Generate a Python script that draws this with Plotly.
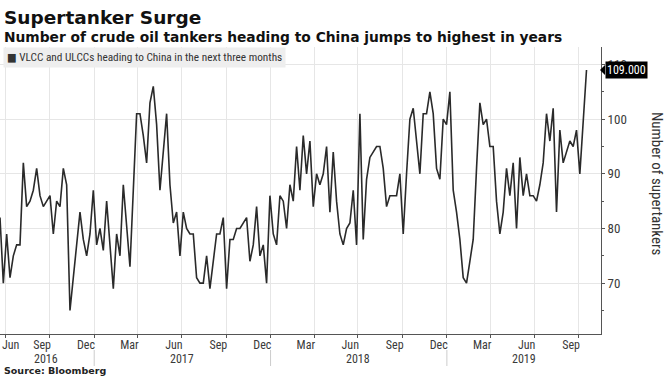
import plotly.graph_objects as go
import pandas as pd

# ---------------- data ----------------
title = "Supertanker Surge"
subtitle = "Number of crude oil tankers heading to China jumps to highest in years"
series_name = "VLCC and ULCCs heading to China in the next three months"
y_title = "Number of supertankers"
source = "Source: Bloomberg"

first_date = "2016-06-20"
last_date = "2019-10-17"
axis_end = "2019-11-16"

tankers = [
    82, 70, 79, 71, 75, 77, 77, 92, 84, 85, 87, 91, 86, 84, 85, 86, 79, 85,
    84, 91, 88, 65, 71, 77, 83, 78, 75, 79, 87, 77, 80, 76, 85, 77, 69, 79,
    75, 88, 81, 73, 87, 101, 101, 97, 92, 103, 106, 99, 87, 94, 101, 88, 81, 83,
    75, 83, 80, 79, 79, 71, 70, 70, 75, 69, 74, 79, 79, 82, 69, 78, 78, 80,
    80, 81, 82, 74, 77, 84, 75, 77, 70, 86, 79, 77, 86, 85, 80, 88, 85, 95,
    87, 97, 90, 96, 84, 90, 88, 90, 95, 83, 94, 85, 79, 77, 80, 81, 87, 77,
    101, 78, 89, 93, 94, 95, 95, 91, 84, 86, 86, 86, 90, 79, 90, 100, 102, 96,
    90, 101, 101, 105, 101, 91, 89, 100, 99, 105, 87, 83, 78, 71, 70, 74, 78, 91,
    103, 99, 100, 95, 95, 85, 79, 83, 91, 86, 92, 80, 93, 86, 90, 86, 86, 85,
    88, 92, 101, 96, 102, 83, 98, 92, 94, 96, 95, 98, 90, 100, 109,
]

month_tick_dates = [
    "2016-09-15", "2016-12-15", "2017-03-15", "2017-06-15", "2017-09-15",
    "2017-12-15", "2018-03-15", "2018-06-15", "2018-09-15", "2018-12-15",
    "2019-03-15", "2019-06-15", "2019-09-15",
]
month_tick_labels = ["Sep", "Dec", "Mar", "Jun", "Sep", "Dec", "Mar", "Jun",
                     "Sep", "Dec", "Mar", "Jun", "Sep"]
first_month_label = "Jun"
quarter_grid_dates = [
    "2016-07-01", "2016-10-01", "2017-01-01", "2017-04-01", "2017-07-01",
    "2017-10-01", "2018-01-01", "2018-04-01", "2018-07-01", "2018-10-01",
    "2019-01-01", "2019-04-01", "2019-07-01", "2019-10-01",
]
year_labels = ["2016", "2017", "2018", "2019"]
year_label_dates = ["2016-09-24", "2017-07-02", "2018-07-02", "2019-06-10"]
year_boundaries = ["2017-01-01", "2018-01-01", "2019-01-01"]
y_ticks = [70, 80, 90, 100, 110]
y_range = [60.7, 113.2]

dates = pd.date_range(first_date, last_date, periods=len(tankers))

# ---------------- layout helpers ----------------
W, H = 670, 376
M_L, M_R, M_T, M_B = 0, 69, 47, 42
PW, PH = W - M_L - M_R, H - M_T - M_B


def py(px):
    """pixel row from top -> paper y"""
    return (H - M_B - px) / PH


def pxx(px):
    """pixel column from left -> paper x"""
    return (px - M_L) / PW


NARROW = "Liberation Sans Narrow, Roboto Condensed, DejaVu Sans Condensed, Liberation Sans, sans-serif"
BOLD = "DejaVu Sans, Verdana, sans-serif"
GRID = "#e6e6e6"
AXIS = "#555555"
TXT = "#3a3a3a"

fig = go.Figure()
fig.add_trace(go.Scatter(
    x=dates, y=tankers, mode="lines", name=series_name,
    line=dict(color="#2a2a2a", width=1.6), showlegend=False,
))

fig.update_layout(
    width=W, height=H,
    margin=dict(l=M_L, r=M_R, t=M_T, b=M_B, pad=0),
    paper_bgcolor="white", plot_bgcolor="white",
    font=dict(family=NARROW, color=TXT, size=12),
    xaxis=dict(
        range=[first_date, axis_end],
        showline=True, linecolor=AXIS, linewidth=1,
        tickmode="array", tickvals=month_tick_dates, ticktext=month_tick_labels,
        showgrid=False, ticks="", tickfont=dict(family=NARROW, size=12, color=TXT),
        minor=dict(tickmode="array", tickvals=quarter_grid_dates, showgrid=True,
                   gridcolor=GRID, gridwidth=1, ticks="outside", ticklen=3,
                   tickcolor=AXIS),
        zeroline=False, fixedrange=True,
    ),
    yaxis=dict(
        side="right", range=y_range,
        tickmode="array", tickvals=y_ticks,
        showline=True, linecolor=AXIS, linewidth=1,
        showgrid=True, gridcolor=GRID, gridwidth=1,
        ticks="outside", ticklen=3, tickcolor=AXIS,
        minor=dict(dtick=5, tick0=65, ticks="outside", ticklen=2, tickcolor=AXIS, showgrid=False),
        tickfont=dict(family=NARROW, size=13, color=TXT),
        zeroline=False, fixedrange=True,
    ),
)

annotations = [
    dict(text=f"<b>{title}</b>", x=pxx(2), y=py(18), xref="paper", yref="paper",
         xanchor="left", yanchor="middle", showarrow=False,
         font=dict(family=BOLD, size=18.5, color="#111111")),
    dict(text=f"<b>{subtitle}</b>", x=pxx(2), y=py(37), xref="paper", yref="paper",
         xanchor="left", yanchor="middle", showarrow=False,
         font=dict(family=BOLD, size=13.8, color="#111111")),
    dict(text=f"■ {series_name}", x=pxx(3), y=py(57), xref="paper", yref="paper",
         xanchor="left", yanchor="middle", showarrow=False, bgcolor="#eeeeee",
         borderpad=3, font=dict(family=NARROW, size=11.3, color="#333333")),
    dict(text=f"<b>{source}</b>", x=pxx(2), y=py(370), xref="paper", yref="paper",
         xanchor="left", yanchor="middle", showarrow=False,
         font=dict(family=BOLD, size=9.5, color="#222222")),
    dict(text=y_title, x=pxx(657), y=py(184), xref="paper", yref="paper",
         xanchor="center", yanchor="middle", showarrow=False, textangle=90,
         font=dict(family=NARROW, size=15, color="#333333")),
    dict(text=first_month_label, x=pxx(0), y=py(345), xref="paper", yref="paper",
         xanchor="left", yanchor="middle", showarrow=False,
         font=dict(family=NARROW, size=12, color=TXT)),
    dict(text=f"{tankers[-1]:.3f}", x=1, xshift=4, y=tankers[-1], xref="paper", yref="y",
         xanchor="left", yanchor="middle", showarrow=False, bgcolor="#000000",
         borderpad=1, font=dict(family=NARROW, size=12, color="white")),
]
for lab, d in zip(year_labels, year_label_dates):
    annotations.append(dict(text=lab, x=d, y=py(359), xref="x", yref="paper",
                            xanchor="center", yanchor="middle", showarrow=False,
                            font=dict(family=NARROW, size=12, color=TXT)))

shapes = []
for d in year_boundaries:
    shapes.append(dict(type="line", xref="x", yref="paper", x0=d, x1=d,
                       y0=py(350), y1=py(366), line=dict(color="#cccccc", width=1)))
# notch of the last-value label
shapes.append(dict(type="path", xref="paper", yref="y",
                   path=f"M {pxx(600)},{tankers[-1]} L {pxx(605)},{tankers[-1] + 0.9} "
                        f"L {pxx(605)},{tankers[-1] - 0.9} Z",
                   fillcolor="#000000", line=dict(width=0)))

fig.update_layout(annotations=annotations, shapes=shapes)
fig.write_html("out.html", config={"displayModeBar": False},
               post_script="document.body.style.margin='0px';document.body.style.padding='0px';")
